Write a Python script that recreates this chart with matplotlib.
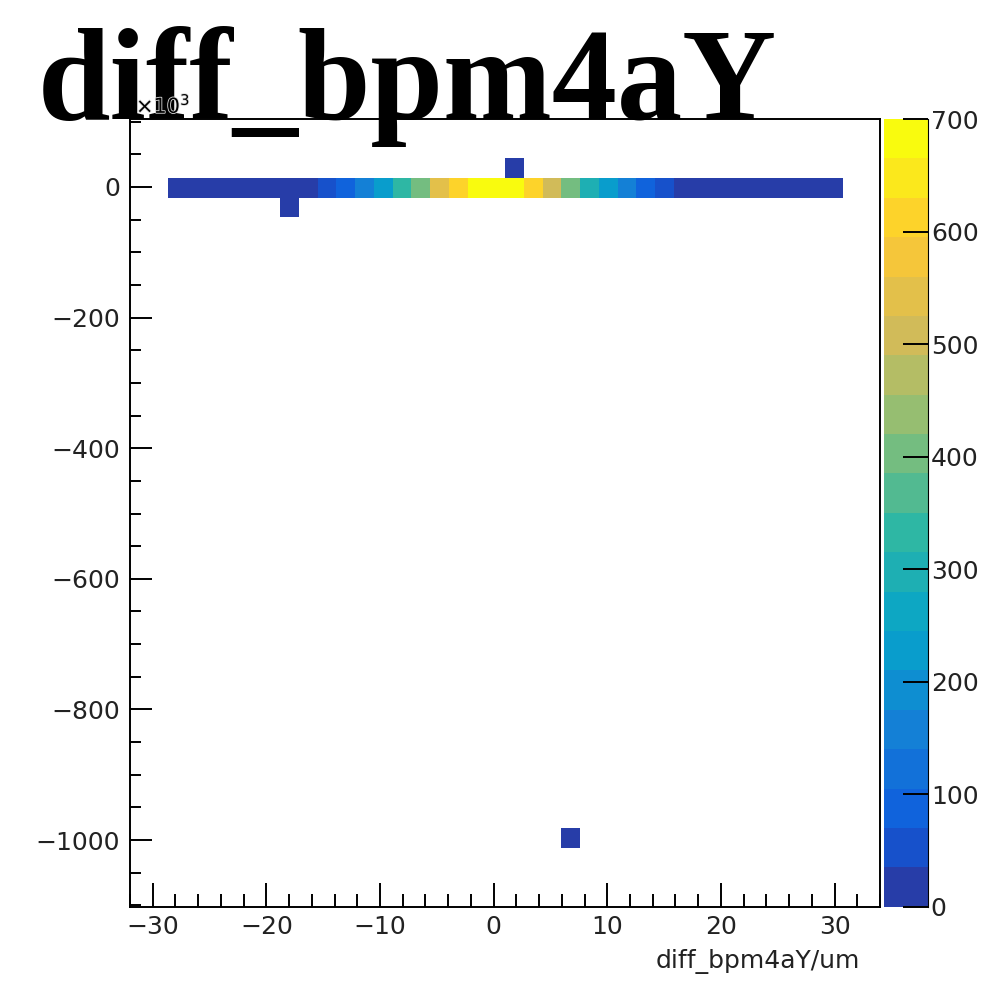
import numpy as np
import matplotlib
matplotlib.use("Agg")
import matplotlib.pyplot as plt
from matplotlib.colors import ListedColormap, BoundaryNorm
from matplotlib.ticker import MultipleLocator
import matplotlib.patheffects as pe

# ---- data ----
title = "diff_bpm4aY"
xlabel = "diff_bpm4aY/um"
x_lo, x_hi, nx = -32.0, 34.0, 40
y_lo, y_hi, ny = -1102.0, 104.0, 40      # in units of 10^3
z_max = 700.0
n_levels = 20

# main band: row index and counts for x bins 2..37
band_row = 36
band_first_bin = 2
band_counts = [1, 2, 3, 5, 8, 12, 18, 27,          # bins 2-9
               50, 90, 150, 225, 330, 400, 540, 610,  # bins 10-17
               690, 700, 685,                    # bins 18-20
               610, 505, 400, 300, 225, 150, 90, 50,  # bins 21-28
               28, 18, 12, 8, 5, 3, 2, 1, 1]     # bins 29-37
# isolated single-entry cells: (x bin, y bin, count)
single_cells = [(8, 35, 1), (20, 37, 1), (23, 3, 1)]

# ---- kBird palette ----
stops = [0.0000, 0.1250, 0.2500, 0.3750, 0.5000, 0.6250, 0.7500, 0.8750, 1.0000]
red   = [0.2082, 0.0592, 0.0780, 0.0232, 0.1802, 0.5301, 0.8186, 0.9956, 0.9764]
green = [0.1664, 0.3599, 0.5041, 0.6419, 0.7178, 0.7492, 0.7328, 0.7862, 0.9832]
blue  = [0.5293, 0.8684, 0.8385, 0.7914, 0.6425, 0.4662, 0.3499, 0.1968, 0.0539]
ncol = 255
lvl_cols = []
for c in range(n_levels):
    idx = int((c + 0.99) * ncol / n_levels)
    t = idx / (ncol - 1)
    lvl_cols.append((np.interp(t, stops, red), np.interp(t, stops, green), np.interp(t, stops, blue)))
cmap = ListedColormap(lvl_cols)
bounds = np.linspace(0, z_max, n_levels + 1)
norm = BoundaryNorm(bounds, cmap.N)

# ---- histogram ----
H = np.zeros((ny, nx))
for i, v in enumerate(band_counts):
    H[band_row, band_first_bin + i] = v
for bx, by, v in single_cells:
    H[by, bx] = v
Hm = np.ma.masked_where(H <= 0, H)
xe = np.linspace(x_lo, x_hi, nx + 1)
ye = np.linspace(y_lo, y_hi, ny + 1)

W, Hpx = 981, 991
fig = plt.figure(figsize=(W / 100, Hpx / 100), dpi=100)
fig.patch.set_facecolor("white")

ax_l, ax_r, ax_t, ax_b = 130, 880, 119, 906.7
ax = fig.add_axes([ax_l / W, 1 - ax_b / Hpx, (ax_r - ax_l) / W, (ax_b - ax_t) / Hpx])
mesh = ax.pcolormesh(xe, ye, Hm, cmap=cmap, norm=norm, shading="flat")
ax.set_xlim(x_lo, x_hi)
ax.set_ylim(y_lo, y_hi)

font = "DejaVu Sans"
fs = 18
ax.xaxis.set_major_locator(MultipleLocator(10))
ax.xaxis.set_minor_locator(MultipleLocator(2))
ax.yaxis.set_major_locator(MultipleLocator(200))
ax.yaxis.set_minor_locator(MultipleLocator(50))
ax.tick_params(axis="x", which="major", direction="in", length=17, width=1.4, pad=6,
               top=False, labelsize=fs, labelcolor="#222222")
ax.tick_params(axis="x", which="minor", direction="in", length=9.5, width=1.4, top=False)
ax.tick_params(axis="y", which="major", direction="in", length=16, width=1.4, pad=7,
               right=False, labelsize=fs, labelcolor="#222222")
ax.tick_params(axis="y", which="minor", direction="in", length=8, width=1.4, right=False)
for lab in ax.get_xticklabels() + ax.get_yticklabels():
    lab.set_fontfamily(font)
for s in ax.spines.values():
    s.set_linewidth(1.4)

fig.text(860 / W, 1 - 962 / Hpx, xlabel, ha="right", va="center", fontsize=fs,
         family=font, color="#222222")

# colorbar
cax = fig.add_axes([884 / W, 1 - ax_b / Hpx, 44 / W, (ax_b - ax_t) / Hpx])
cb = fig.colorbar(mesh, cax=cax, ticks=np.arange(0, 701, 100))
cb.outline.set_visible(False)
cax.spines["right"].set_visible(True)
cax.tick_params(direction="in", length=18, width=1.4, pad=2, labelsize=fs, right=True,
                labelcolor="#222222")
cax.yaxis.set_minor_locator(matplotlib.ticker.NullLocator())
for lab in cax.get_yticklabels():
    lab.set_fontfamily(font)

# title
fig.text(38 / W, 1 - 119 / Hpx, title, ha="left", va="baseline", fontsize=94,
         family="Liberation Serif", weight="bold", zorder=5)
t3 = fig.text(136 / W, 1 - 113 / Hpx, r"$\times10^{3}$", ha="left", va="baseline",
              fontsize=15, color="black", zorder=6, family=font)
t3.set_path_effects([pe.withStroke(linewidth=1.2, foreground="#dddddd")])

fig.savefig("out.png", dpi=100)
